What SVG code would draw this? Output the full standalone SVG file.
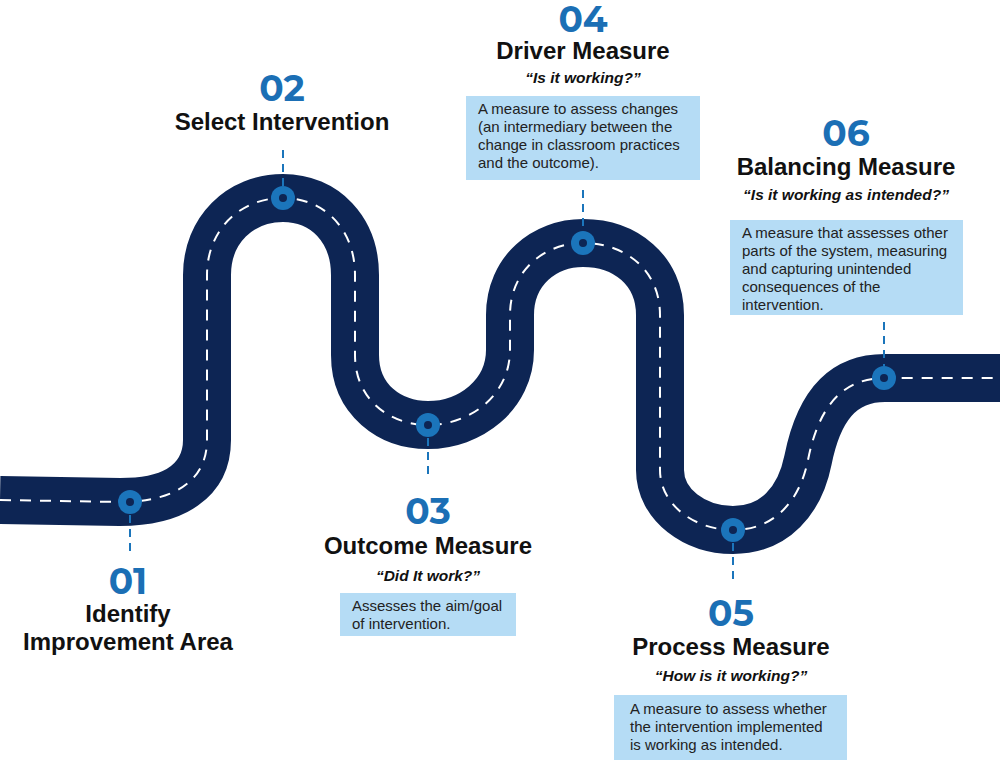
<svg xmlns="http://www.w3.org/2000/svg" width="1000" height="765" viewBox="0 0 1000 765">
<style>
.num{font-family:Montserrat,"Liberation Sans",sans-serif;font-weight:bold;font-size:36px;fill:#1b6fb5;text-anchor:middle}
.ttl{font-family:"Liberation Sans",sans-serif;font-weight:bold;font-size:24px;fill:#111;text-anchor:middle}
.q{font-family:"Liberation Sans",sans-serif;font-weight:bold;font-style:italic;font-size:15.5px;fill:#111;text-anchor:middle}
.bt{font-family:"Liberation Sans",sans-serif;font-size:15px;fill:#222}
.box{fill:#b5dcf5}
.tick{stroke:#1b75bb;stroke-width:2;stroke-dasharray:8,6;fill:none}
.m1{fill:#1b75bb}.m2{fill:#0d2554}
</style>
<g id="road">
<path d="M0,500 L120,502 C175,502 207,480 207,440 L207,275 C207,230 240,198 283,198 C325,198 355,230 355,275 L355,355 C355,400 390,425 428,425 C470,425 510,395 510,350 L510,315 C510,270 545,243 583,243 C625,243 660,270 660,315 L660,470 C660,505 695,530 733,530 C775,530 800,500 808,460 C818,410 840,378 885,378 L1000,378" fill="none" stroke="#0d2554" stroke-width="48"/>
<path d="M0,500 L120,502 C175,502 207,480 207,440 L207,275 C207,230 240,198 283,198 C325,198 355,230 355,275 L355,355 C355,400 390,425 428,425 C470,425 510,395 510,350 L510,315 C510,270 545,243 583,243 C625,243 660,270 660,315 L660,470 C660,505 695,530 733,530 C775,530 800,500 808,460 C818,410 840,378 885,378 L1000,378" fill="none" stroke="#fff" stroke-width="2" stroke-dasharray="11,9"/>
</g>
<g id="connectors">
<line class="tick" x1="283" y1="150" x2="283" y2="186"/>
<line class="tick" x1="583" y1="190" x2="583" y2="231"/>
<line class="tick" x1="884" y1="322" x2="884" y2="366"/>
<line class="tick" x1="130" y1="515" x2="130" y2="555"/>
<line class="tick" x1="428" y1="438" x2="428" y2="476"/>
<line class="tick" x1="733" y1="543" x2="733" y2="585"/>
</g>
<g id="n01">
<circle class="m1" cx="130" cy="502" r="12"/><circle class="m2" cx="130" cy="502" r="4"/>
<text class="num" x="128" y="594">01</text>
<text class="ttl" x="128" y="622">Identify</text>
<text class="ttl" x="128" y="650">Improvement Area</text>
</g>
<g id="n02">
<circle class="m1" cx="283" cy="198" r="12"/><circle class="m2" cx="283" cy="198" r="4"/>
<text class="num" x="282" y="101">02</text>
<text class="ttl" x="282" y="130">Select Intervention</text>
</g>
<g id="n03">
<circle class="m1" cx="428" cy="425" r="12"/><circle class="m2" cx="428" cy="425" r="4"/>
<text class="num" x="428" y="524">03</text>
<text class="ttl" x="428" y="554">Outcome Measure</text>
<text class="q" x="428" y="581">“Did It work?”</text>
<rect class="box" x="340" y="593" width="176" height="43"/>
<text class="bt" x="352" y="611">Assesses the aim/goal</text>
<text class="bt" x="352" y="629">of intervention.</text>
</g>
<g id="n04">
<circle class="m1" cx="583" cy="243" r="12"/><circle class="m2" cx="583" cy="243" r="4"/>
<text class="num" x="583" y="32">04</text>
<text class="ttl" x="583" y="59">Driver Measure</text>
<text class="q" x="583" y="83">“Is it working?”</text>
<rect class="box" x="466" y="96" width="234" height="84"/>
<text class="bt" x="478" y="114">A measure to assess changes</text>
<text class="bt" x="478" y="132">(an intermediary between the</text>
<text class="bt" x="478" y="150">change in classroom practices</text>
<text class="bt" x="478" y="168">and the outcome).</text>
</g>
<g id="n05">
<circle class="m1" cx="733" cy="530" r="12"/><circle class="m2" cx="733" cy="530" r="4"/>
<text class="num" x="731" y="626">05</text>
<text class="ttl" x="731" y="655">Process Measure</text>
<text class="q" x="731" y="681">“How is it working?”</text>
<rect class="box" x="614" y="695" width="233" height="65"/>
<text class="bt" x="630" y="714">A measure to assess whether</text>
<text class="bt" x="630" y="732">the intervention implemented</text>
<text class="bt" x="630" y="750">is working as intended.</text>
</g>
<g id="n06">
<circle class="m1" cx="884" cy="378" r="12"/><circle class="m2" cx="884" cy="378" r="4"/>
<text class="num" x="846" y="146">06</text>
<text class="ttl" x="846" y="175">Balancing Measure</text>
<text class="q" x="846" y="200">“Is it working as intended?”</text>
<rect class="box" x="730" y="220" width="233" height="95"/>
<text class="bt" x="742" y="238">A measure that assesses other</text>
<text class="bt" x="742" y="256">parts of the system, measuring</text>
<text class="bt" x="742" y="274">and capturing unintended</text>
<text class="bt" x="742" y="292">consequences of the</text>
<text class="bt" x="742" y="310">intervention.</text>
</g>
</svg>
